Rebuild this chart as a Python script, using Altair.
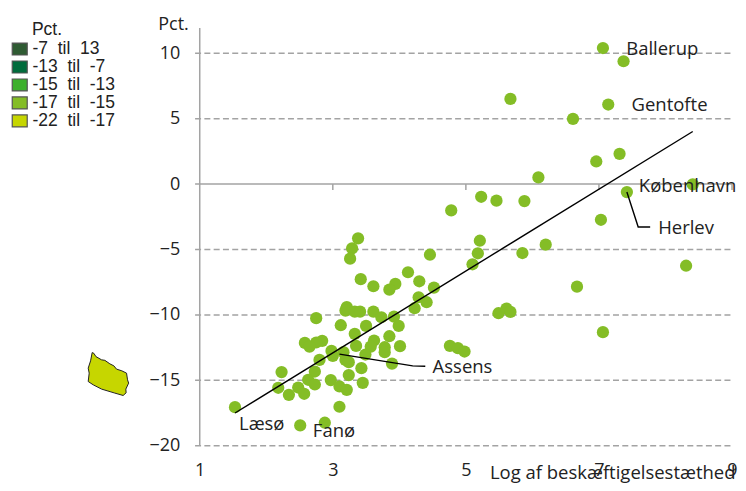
import altair as alt
import pandas as pd

NB = "\u00a0"
FONT = "Open Sans"

# Scatter values: log employment density, percent
xs = [7.06,7.37,5.67,7.14,6.61,7.31,6.96,6.09,8.41,7.42,5.23,5.46,5.88,4.78,7.03,5.21,6.20,5.18,5.85,5.10,8.31,6.67,5.49,5.61,5.67,7.06,4.76,4.88,4.98,
      3.38,3.29,3.26,4.46,4.13,3.42,4.30,3.61,3.94,3.85,4.52,4.29,4.41,4.23,3.21,3.19,3.33,3.41,3.61,3.73,3.92,2.75,3.99,3.12,3.50,3.33,3.85,
      2.58,2.84,2.75,2.65,3.62,3.57,3.35,3.78,4.01,3.78,2.98,3.00,3.16,3.49,2.80,3.19,3.24,3.89,2.73,3.43,2.23,3.24,2.63,2.97,2.73,3.45,3.10,
      2.48,2.18,3.21,2.57,2.34,1.53,3.10,2.51,2.88]
ys = [10.40,9.39,6.51,6.08,4.98,2.31,1.73,0.51,-0.02,-0.61,-0.97,-1.27,-1.30,-2.01,-2.73,-4.33,-4.63,-5.29,-5.27,-6.13,-6.24,-7.84,-9.87,-9.52,-9.77,-11.32,-12.37,-12.54,-12.80,
      -4.15,-4.91,-5.70,-5.40,-6.74,-7.27,-7.43,-7.81,-7.63,-8.07,-7.92,-8.65,-9.03,-9.49,-9.41,-9.67,-9.75,-9.75,-9.75,-10.18,-10.13,-10.25,-10.84,-10.79,-10.84,-11.45,-11.63,
      -12.14,-11.98,-12.11,-12.42,-11.96,-12.42,-12.37,-12.47,-12.39,-12.85,-12.75,-13.13,-12.85,-13.03,-13.44,-13.44,-13.61,-13.72,-14.33,-14.07,-14.37,-14.60,-14.96,-14.98,-15.32,-15.19,-15.47,
      -15.55,-15.57,-15.73,-16.03,-16.11,-17.05,-17.02,-18.45,-18.24]

trend_x = [1.53, 8.41]
trend_y = [-17.5, 4.02]

assens_x = [3.10, 4.20, 4.39]
assens_y = [-13.0, -13.9, -13.92]
herlev_x = [7.42, 7.59, 7.77]
herlev_y = [-0.61, -3.28, -3.28]

label_names = ["Ballerup", "Gentofte", "København", "Herlev", "Assens", "Læsø", "Fanø"]
label_x = [7.41, 7.49, 7.60, 7.89, 4.50, 1.59, 2.70]
label_y = [10.31, 6.03, -0.15, -3.36, -13.97, -18.32, -18.85]

grid_values = [10, 5, -5, -10, -15, -20]
y_ticks = [10, 5, 0, -5, -10, -15, -20]
x_ticks = [1, 3, 5, 7, 9]
x_minor = [3, 5, 7, 9]

classes = [f"-7{NB}{NB}til{NB}{NB}13", f"-13{NB}{NB}til{NB}{NB}-7", f"-15{NB}{NB}til{NB}{NB}-13",
           f"-17{NB}{NB}til{NB}{NB}-15", f"-22{NB}{NB}til{NB}{NB}-17"]
class_colors = ["#2f5b33", "#006b3c", "#3cb02c", "#84bd26", "#c6d600"]

# Outline of the island shown on the small map
island = [[84.3,344.7],[86,345.5],[88,348.7],[93.7,352],[97,352.5],[102,356],[106,358],[108.7,361.3],[114,363],[118.7,365.3],
          [119.7,372],[120.8,375.3],[118,381.3],[118.3,385],[115.3,387.7],[107,385.3],[93.7,381.3],[85.3,377],[80.3,373.7],
          [81.3,365.3],[80.3,360.3],[82.7,353],[84.3,344.7]]

DOM_X = [1, 9]
DOM_Y = [-20, 13.435]
TXT = "#222222"
GRID = "#a3a3a3"

x_enc = alt.X("x:Q", scale=alt.Scale(domain=DOM_X, nice=False, zero=False),
              axis=alt.Axis(values=x_ticks, domain=False, ticks=False, grid=False, labelFont=FONT, labelFontSize=18,
                            labelColor=TXT, labelPadding=16, format="d", labelFlush=False,
                            title="Log af beskæftigelsestæthed", titleFont=FONT, titleFontSize=18.5, titleFontWeight="normal",
                            titleColor=TXT, titleAlign="right", titleAnchor="end", titleBaseline="alphabetic", titleX=536, titleY=33))
y_enc = alt.Y("y:Q", scale=alt.Scale(domain=DOM_Y, nice=False, zero=False),
              axis=alt.Axis(values=y_ticks, domain=False, ticks=False, grid=False, labelFont=FONT, labelFontSize=18,
                            labelColor=TXT, labelPadding=20, format="d",
                            title="Pct.", titleFont=FONT, titleFontSize=18, titleFontWeight="normal", titleColor=TXT,
                            titleAngle=0, titleAlign="left", titleBaseline="middle", titleX=-42, titleY=16))

base = alt.Chart(pd.DataFrame({"x": xs, "y": ys}))
points = base.mark_circle(size=150, color="#84bd26", opacity=1).encode(x=x_enc, y=y_enc)

grid = alt.Chart(pd.DataFrame({"y": grid_values})).transform_calculate(x0="0.93", x1="9").mark_rule(
    color=GRID, strokeWidth=1.5, strokeDash=[6, 3.3]).encode(x=alt.X("x0:Q"), x2="x1:Q", y="y:Q")
zero = alt.Chart(pd.DataFrame({"y": [0]})).transform_calculate(x0="0.93", x1="9").mark_rule(
    color=GRID, strokeWidth=1.5).encode(x=alt.X("x0:Q"), x2="x1:Q", y="y:Q")
yaxis = alt.Chart(pd.DataFrame({"x": [1]})).transform_calculate(y0="11.93", y1="-20").mark_rule(
    color=GRID, strokeWidth=1.5).encode(x="x:Q", y=alt.Y("y0:Q"), y2="y1:Q")
xtick = alt.Chart(pd.DataFrame({"x": x_minor})).transform_calculate(y0="0", y1="-0.45").mark_rule(
    color=GRID, strokeWidth=1.5).encode(x="x:Q", y=alt.Y("y0:Q"), y2="y1:Q")

trend = alt.Chart(pd.DataFrame({"x": trend_x, "y": trend_y})).mark_line(color="#000000", strokeWidth=1.4).encode(x="x:Q", y="y:Q")
lead1 = alt.Chart(pd.DataFrame({"x": assens_x, "y": assens_y})).mark_line(color="#000000", strokeWidth=1.4).encode(x="x:Q", y="y:Q", order=alt.Order("x:Q"))
lead2 = alt.Chart(pd.DataFrame({"x": herlev_x, "y": herlev_y})).mark_line(color="#000000", strokeWidth=1.4).encode(x="x:Q", y="y:Q", order=alt.Order("x:Q"))

labels = alt.Chart(pd.DataFrame({"x": label_x, "y": label_y, "t": label_names})).mark_text(
    font=FONT, fontSize=18.5, color=TXT, align="left", baseline="middle").encode(x="x:Q", y="y:Q", text="t:N")

right = alt.layer(grid, zero, yaxis, xtick, points, trend, lead1, lead2, labels).properties(width=533, height=438)

feature = {"type": "Feature", "properties": {"k": classes[4]},
           "geometry": {"type": "Polygon", "coordinates": [island]}}
island_data = alt.InlineData(values={"type": "FeatureCollection", "features": [feature]},
                             format=alt.DataFormat(property="features", type="json"))
shape = alt.Chart(island_data).mark_geoshape(stroke="#222222", strokeWidth=1).encode(
    color=alt.Color("properties.k:N",
                    scale=alt.Scale(domain=classes, range=class_colors),
                    legend=alt.Legend(title=None, orient="none", legendX=3, legendY=32, symbolType="M-1,-0.8H1V0.8H-1Z",
                                      symbolSize=225, symbolStrokeWidth=1.2, symbolStrokeColor="#555555",
                                      symbolOpacity=1, labelFont="Liberation Sans", labelFontSize=17.5, labelColor=TXT,
                                      labelOffset=4, rowPadding=-1, values=classes))
).project(type="identity", scale=1, translate=[0, 0])

legend_title = alt.Chart(pd.DataFrame({"t": ["Pct."]})).mark_text(
    font="Liberation Sans", fontSize=17.5, color=TXT, align="left", baseline="middle").encode(
    text="t:N", x=alt.value(24), y=alt.value(22))

left = alt.layer(shape, legend_title).properties(width=192, height=438)

chart = alt.hconcat(left, right, spacing=0, bounds="flush").properties(
    padding=0, background="white").configure_view(stroke=None)

chart.save("out.html", embed_options={"renderer": "svg", "actions": False})
